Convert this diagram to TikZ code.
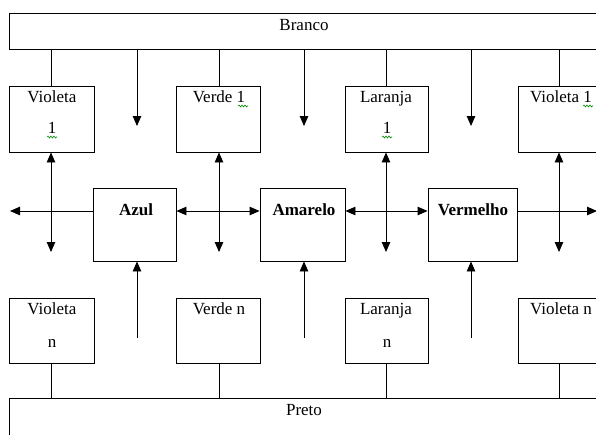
\documentclass[tikz,border=0pt]{standalone}
\usepackage{fontspec}
\setmainfont{Liberation Serif}
\usetikzlibrary{arrows.meta,decorations.pathmorphing}
\begin{document}
\begin{tikzpicture}[x=1pt,y=-1pt,
  box/.style={draw, line width=0.9pt, inner sep=0pt},
  lbl/.style={font=\fontsize{17}{19}\selectfont, inner sep=0pt, anchor=base},
  blbl/.style={font=\fontsize{17}{19}\selectfont\bfseries, inner sep=0pt, anchor=base},
  ln/.style={line width=0.9pt},
  arr/.style={ln, -{Triangle[length=10pt,width=8.5pt]}},
  darr/.style={ln, {Triangle[length=10pt,width=8.5pt]}-{Triangle[length=10pt,width=8.5pt]}},
  squig/.style={draw=green!55!black, line width=0.6pt, decorate, decoration={snake, amplitude=1pt, segment length=3pt}}
]
\useasboundingbox (0,0) rectangle (596,434);
\clip (0,0) rectangle (596,434);

% buses
\node[box, anchor=north west, minimum width=620pt, minimum height=36pt] (branco) at (9,13) {};
\node[lbl] (tbranco) at (304,30) {Branco};
\node[box, anchor=north west, minimum width=620pt, minimum height=50pt] (preto) at (9,398) {};
\node[lbl] (tpreto) at (304,415) {Preto};

% top boxes
\node[box, minimum width=85pt, minimum height=66pt] (vio1) at (51.5,119) {};
\node[box, minimum width=84pt, minimum height=66pt] (ver1) at (218,119) {};
\node[box, minimum width=83pt, minimum height=66pt] (lar1) at (386.5,119) {};
\node[box, minimum width=84pt, minimum height=66pt] (vioR1) at (560,119) {};
\node[lbl] (tvio1a) at (52,102) {Violeta};
\node[lbl] (tvio1b) at (52,133) {1};
\node[lbl] (tver1) at (219,102) {Verde 1};
\node[lbl] (tlar1a) at (386,102) {Laranja};
\node[lbl] (tlar1b) at (387,133) {1};
\node[lbl] (tvioR1) at (561,102) {Violeta 1};

% squiggles
\draw[squig] (47,137) -- (57,137);
\draw[squig] (238,106) -- (248,106);
\draw[squig] (382,137) -- (392,137);
\draw[squig] (583,106) -- (593,106);

% middle boxes
\node[box, minimum width=83pt, minimum height=73pt] (azul) at (134.5,224.5) {};
\node[box, minimum width=85pt, minimum height=73pt] (amar) at (302.5,224.5) {};
\node[box, minimum width=89pt, minimum height=73pt] (verm) at (472.5,224.5) {};
\node[blbl] (tazul) at (136,215) {Azul};
\node[blbl] (tamar) at (304,215) {Amarelo};
\node[blbl] (tverm) at (473,215) {Vermelho};

% bottom boxes
\node[box, minimum width=85pt, minimum height=65pt] (vion) at (51.5,330.5) {};
\node[box, minimum width=84pt, minimum height=65pt] (vern) at (218,330.5) {};
\node[box, minimum width=83pt, minimum height=65pt] (larn) at (386.5,330.5) {};
\node[box, minimum width=84pt, minimum height=65pt] (vioRn) at (560,330.5) {};
\node[lbl] (tviona) at (52,314) {Violeta};
\node[lbl] (tvionb) at (52,347) {n};
\node[lbl] (tvern) at (219,314) {Verde n};
\node[lbl] (tlarna) at (386,314) {Laranja};
\node[lbl] (tlarnb) at (387,347) {n};
\node[lbl] (tvioRn) at (561,314) {Violeta n};

% coordinates for free ends
\coordinate (d1) at (137,126);
\coordinate (d2) at (304,126);
\coordinate (d3) at (471,126);
\coordinate (u1) at (137,338);
\coordinate (u2) at (304,338);
\coordinate (u3) at (471,338);
\coordinate (lft) at (10,211);
\coordinate (rgt) at (597,211);
\coordinate (e1) at (51,252);
\coordinate (e2) at (219,252);
\coordinate (e3) at (386,252);
\coordinate (e4) at (559,252);

% bus connections
\foreach \b/\xx in {vio1/51, ver1/219, lar1/386, vioR1/559}{
  \draw[ln] (\xx,49) -- (\b.north -| \xx,0);
}
\foreach \b/\xx in {vion/51, vern/219, larn/386, vioRn/559}{
  \draw[ln] (\b.south -| \xx,0) -- (\xx,398);
}

% down arrows from Branco
\draw[arr] (branco.south -| d1) -- (d1);
\draw[arr] (branco.south -| d2) -- (d2);
\draw[arr] (branco.south -| d3) -- (d3);

% up arrows into middle boxes
\draw[arr] (u1) -- (azul.south -| u1);
\draw[arr] (u2) -- (amar.south -| u2);
\draw[arr] (u3) -- (verm.south -| u3);

% horizontal arrows
\draw[arr] (azul.west |- lft) -- (lft);
\draw[darr] (azul.east |- lft) -- (amar.west |- lft);
\draw[darr] (amar.east |- lft) -- (verm.west |- lft);
\draw[arr] (verm.east |- rgt) -- (rgt);

% vertical double arrows
\draw[darr] (vio1.south -| e1) -- (e1);
\draw[darr] (ver1.south -| e2) -- (e2);
\draw[darr] (lar1.south -| e3) -- (e3);
\draw[darr] (vioR1.south -| e4) -- (e4);
\end{tikzpicture}
\end{document}
